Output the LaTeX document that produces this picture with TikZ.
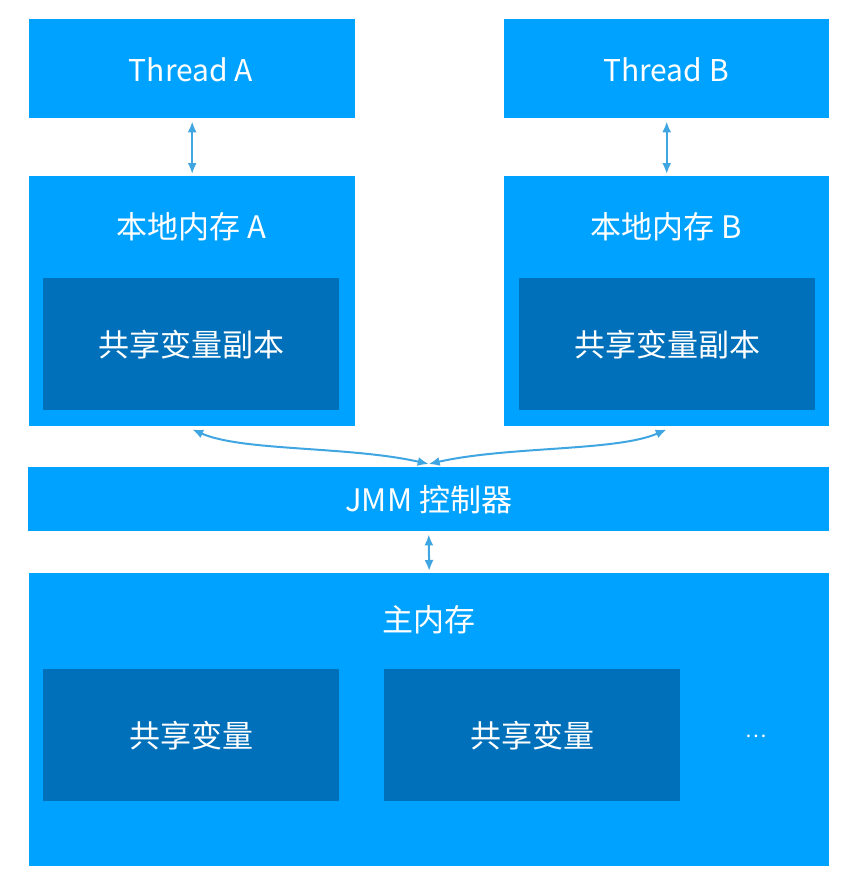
\documentclass[tikz,border=0pt]{standalone}
\usepackage{fontspec}
\setmainfont{Noto Sans CJK SC}
\usetikzlibrary{arrows.meta}
\definecolor{boxblue}{RGB}{0,162,255}
\definecolor{innerblue}{RGB}{0,112,186}
\definecolor{linkblue}{RGB}{64,166,226}
\tikzset{box/.style={fill=boxblue, text=white, inner sep=0pt, anchor=north west}}
\tikzset{copybox/.style={box, fill=innerblue, minimum width=296pt, minimum height=132pt}}
\tikzset{label/.style={text=white, inner sep=0pt, font=\fontsize{31}{36}\selectfont}}
\tikzset{latin/.style={label, font=\fontsize{30}{36}\selectfont}}
\tikzset{link/.style={draw=linkblue, line width=2pt, {Latex[length=11pt,width=9pt]}-{Latex[length=11pt,width=9pt]}}}

\begin{document}
\begin{tikzpicture}[x=1pt, y=-1pt]
  \useasboundingbox[fill=white] (0,0) rectangle (851,888);
  % threads
  \node[box, minimum width=326pt, minimum height=99pt] (threadA) at (29,19) {};
  \node[latin] (threadAtxt) at (191,70) {Thread A};
  \node[box, minimum width=325pt, minimum height=99pt] (threadB) at (504,19) {};
  \node[latin] (threadBtxt) at (666,70) {Thread B};
  % local memory
  \node[box, minimum width=326pt, minimum height=250pt] (memA) at (29,176) {};
  \node[label] (memAtxt) at (191,227) {本地内存 A};
  \node[copybox] (copyA) at (43,278) {};
  \node[label] (copyAtxt) at (copyA.center) {共享变量副本};
  \node[box, minimum width=325pt, minimum height=250pt] (memB) at (504,176) {};
  \node[label] (memBtxt) at (666,227) {本地内存 B};
  \node[copybox] (copyB) at (519,278) {};
  \node[label] (copyBtxt) at (copyB.center) {共享变量副本};
  % jmm
  \node[box, minimum width=801pt, minimum height=64pt] (jmm) at (28,467) {};
  \node[label] (jmmtxt) at (jmm.center) {JMM 控制器};
  % main memory
  \node[box, minimum width=800pt, minimum height=293pt] (main) at (29,573) {};
  \node[label] (maintxt) at (429,620) {主内存};
  \node[copybox] (var1) at (43,669) {};
  \node[label] (var1txt) at (var1.center) {共享变量};
  \node[copybox] (var2) at (384,669) {};
  \node[label] (var2txt) at (var2.center) {共享变量};
  \node[label, font=\fontsize{20}{24}\selectfont] (more) at (756,736) {…};
  % arrows
  \draw[link, shorten <=3pt, shorten >=2pt] (threadA.south) -- (memA.north);
  \draw[link, shorten <=3pt, shorten >=2pt] (threadB.south) -- (memB.north);
  \draw[link, shorten <=3pt, shorten >=2pt] (jmm.south) -- (main.north);
  \draw[link] ([yshift=-3pt]memA.south) .. controls +(50,22) and +(-80,-18) .. ([yshift=3pt]jmm.north);
  \draw[link] ([yshift=-3pt]memB.south) .. controls +(-50,22) and +(80,-18) .. ([yshift=3pt]jmm.north);
\end{tikzpicture}
\end{document}
